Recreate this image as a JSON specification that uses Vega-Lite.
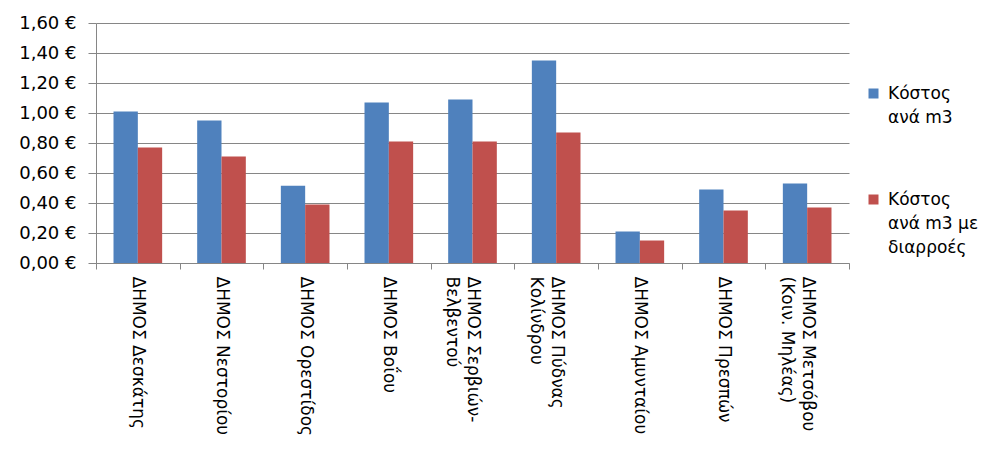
{
  "$schema": "https://vega.github.io/schema/vega-lite/v6.json",
  "autosize": "none",
  "padding": {"left": 96, "top": 23, "right": 142, "bottom": 189},
  "width": 753,
  "height": 240,
  "background": "#ffffff",
  "config": {
    "view": {"stroke": null},
    "style": {"guide-label": {"lineHeight": 24}}
  },
  "data": {
    "values": [
      {"dimos": "ΔΗΜΟΣ Δεσκάτης", "seira": "Κόστος ανά m3", "kostos": 1.01},
      {"dimos": "ΔΗΜΟΣ Δεσκάτης", "seira": "Κόστος ανά m3 με διαρροές", "kostos": 0.77},
      {"dimos": "ΔΗΜΟΣ Νεστορίου", "seira": "Κόστος ανά m3", "kostos": 0.95},
      {"dimos": "ΔΗΜΟΣ Νεστορίου", "seira": "Κόστος ανά m3 με διαρροές", "kostos": 0.71},
      {"dimos": "ΔΗΜΟΣ Ορεστίδος", "seira": "Κόστος ανά m3", "kostos": 0.515},
      {"dimos": "ΔΗΜΟΣ Ορεστίδος", "seira": "Κόστος ανά m3 με διαρροές", "kostos": 0.39},
      {"dimos": "ΔΗΜΟΣ Βοΐου", "seira": "Κόστος ανά m3", "kostos": 1.07},
      {"dimos": "ΔΗΜΟΣ Βοΐου", "seira": "Κόστος ανά m3 με διαρροές", "kostos": 0.81},
      {"dimos": "ΔΗΜΟΣ Σερβιών-Βελβεντού", "seira": "Κόστος ανά m3", "kostos": 1.09},
      {"dimos": "ΔΗΜΟΣ Σερβιών-Βελβεντού", "seira": "Κόστος ανά m3 με διαρροές", "kostos": 0.81},
      {"dimos": "ΔΗΜΟΣ Πύδνας Κολίνδρου", "seira": "Κόστος ανά m3", "kostos": 1.35},
      {"dimos": "ΔΗΜΟΣ Πύδνας Κολίνδρου", "seira": "Κόστος ανά m3 με διαρροές", "kostos": 0.87},
      {"dimos": "ΔΗΜΟΣ Αμυνταίου", "seira": "Κόστος ανά m3", "kostos": 0.21},
      {"dimos": "ΔΗΜΟΣ Αμυνταίου", "seira": "Κόστος ανά m3 με διαρροές", "kostos": 0.15},
      {"dimos": "ΔΗΜΟΣ Πρεσπών", "seira": "Κόστος ανά m3", "kostos": 0.49},
      {"dimos": "ΔΗΜΟΣ Πρεσπών", "seira": "Κόστος ανά m3 με διαρροές", "kostos": 0.35},
      {"dimos": "ΔΗΜΟΣ Μετσόβου (Κοιν. Μηλέας)", "seira": "Κόστος ανά m3", "kostos": 0.53},
      {"dimos": "ΔΗΜΟΣ Μετσόβου (Κοιν. Μηλέας)", "seira": "Κόστος ανά m3 με διαρροές", "kostos": 0.37}
    ]
  },
  "mark": {"type": "bar"},
  "encoding": {
    "x": {
      "field": "dimos",
      "type": "nominal",
      "sort": null,
      "scale": {"paddingInner": 0, "paddingOuter": 0},
      "axis": {
        "title": null,
        "labelAngle": 90,
        "labelAlign": "left",
        "labelBaseline": "middle",
        "labelFont": "DejaVu Sans",
        "labelFontSize": 17,
        "labelColor": "#000000",
        "labelLineHeight": 21,
        "labelPadding": 7,
        "labelLimit": 300,
        "labelOverlap": false,
        "tickBand": "extent",
        "tickSize": 6,
        "tickColor": "#868686",
        "domainColor": "#868686",
        "labelExpr": "datum.label == 'ΔΗΜΟΣ Σερβιών-Βελβεντού' ? ['ΔΗΜΟΣ Σερβιών-', 'Βελβεντού'] : datum.label == 'ΔΗΜΟΣ Πύδνας Κολίνδρου' ? ['ΔΗΜΟΣ Πύδνας', 'Κολίνδρου'] : datum.label == 'ΔΗΜΟΣ Μετσόβου (Κοιν. Μηλέας)' ? ['ΔΗΜΟΣ Μετσόβου', '(Κοιν. Μηλέας)'] : datum.label"
      }
    },
    "xOffset": {
      "field": "seira",
      "type": "nominal",
      "scale": {"paddingInner": 0, "paddingOuter": 0.72}
    },
    "y": {
      "field": "kostos",
      "type": "quantitative",
      "scale": {"domain": [0, 1.6], "nice": false},
      "axis": {
        "title": null,
        "values": [0, 0.2, 0.4, 0.6, 0.8, 1.0, 1.2, 1.4, 1.6],
        "labelExpr": "replace(format(datum.value, '.2f'), '.', ',') + ' €'",
        "labelFont": "DejaVu Sans",
        "labelFontSize": 18,
        "labelColor": "#000000",
        "labelPadding": 12,
        "tickSize": 8,
        "tickColor": "#868686",
        "domainColor": "#868686",
        "gridColor": "#868686",
        "gridOpacity": 1,
        "grid": true
      }
    },
    "color": {
      "field": "seira",
      "type": "nominal",
      "scale": {
        "domain": ["Κόστος ανά m3", "Κόστος ανά m3 με διαρροές"],
        "range": ["#4F81BD", "#C0504D"]
      },
      "legend": {
        "title": null,
        "orient": "none",
        "legendX": 769,
        "legendY": 62,
        "symbolType": "square",
        "symbolSize": 100,
        "symbolStrokeWidth": 0,
        "labelFont": "DejaVu Sans",
        "labelFontSize": 17,
        "labelColor": "#000000",
        "labelLimit": 200,
        "labelOffset": 6,
        "rowPadding": 64,
        "labelExpr": "datum.label == 'Κόστος ανά m3' ? ['Κόστος', 'ανά m3'] : ['Κόστος', 'ανά m3 με', 'διαρροές']"
      }
    }
  }
}
